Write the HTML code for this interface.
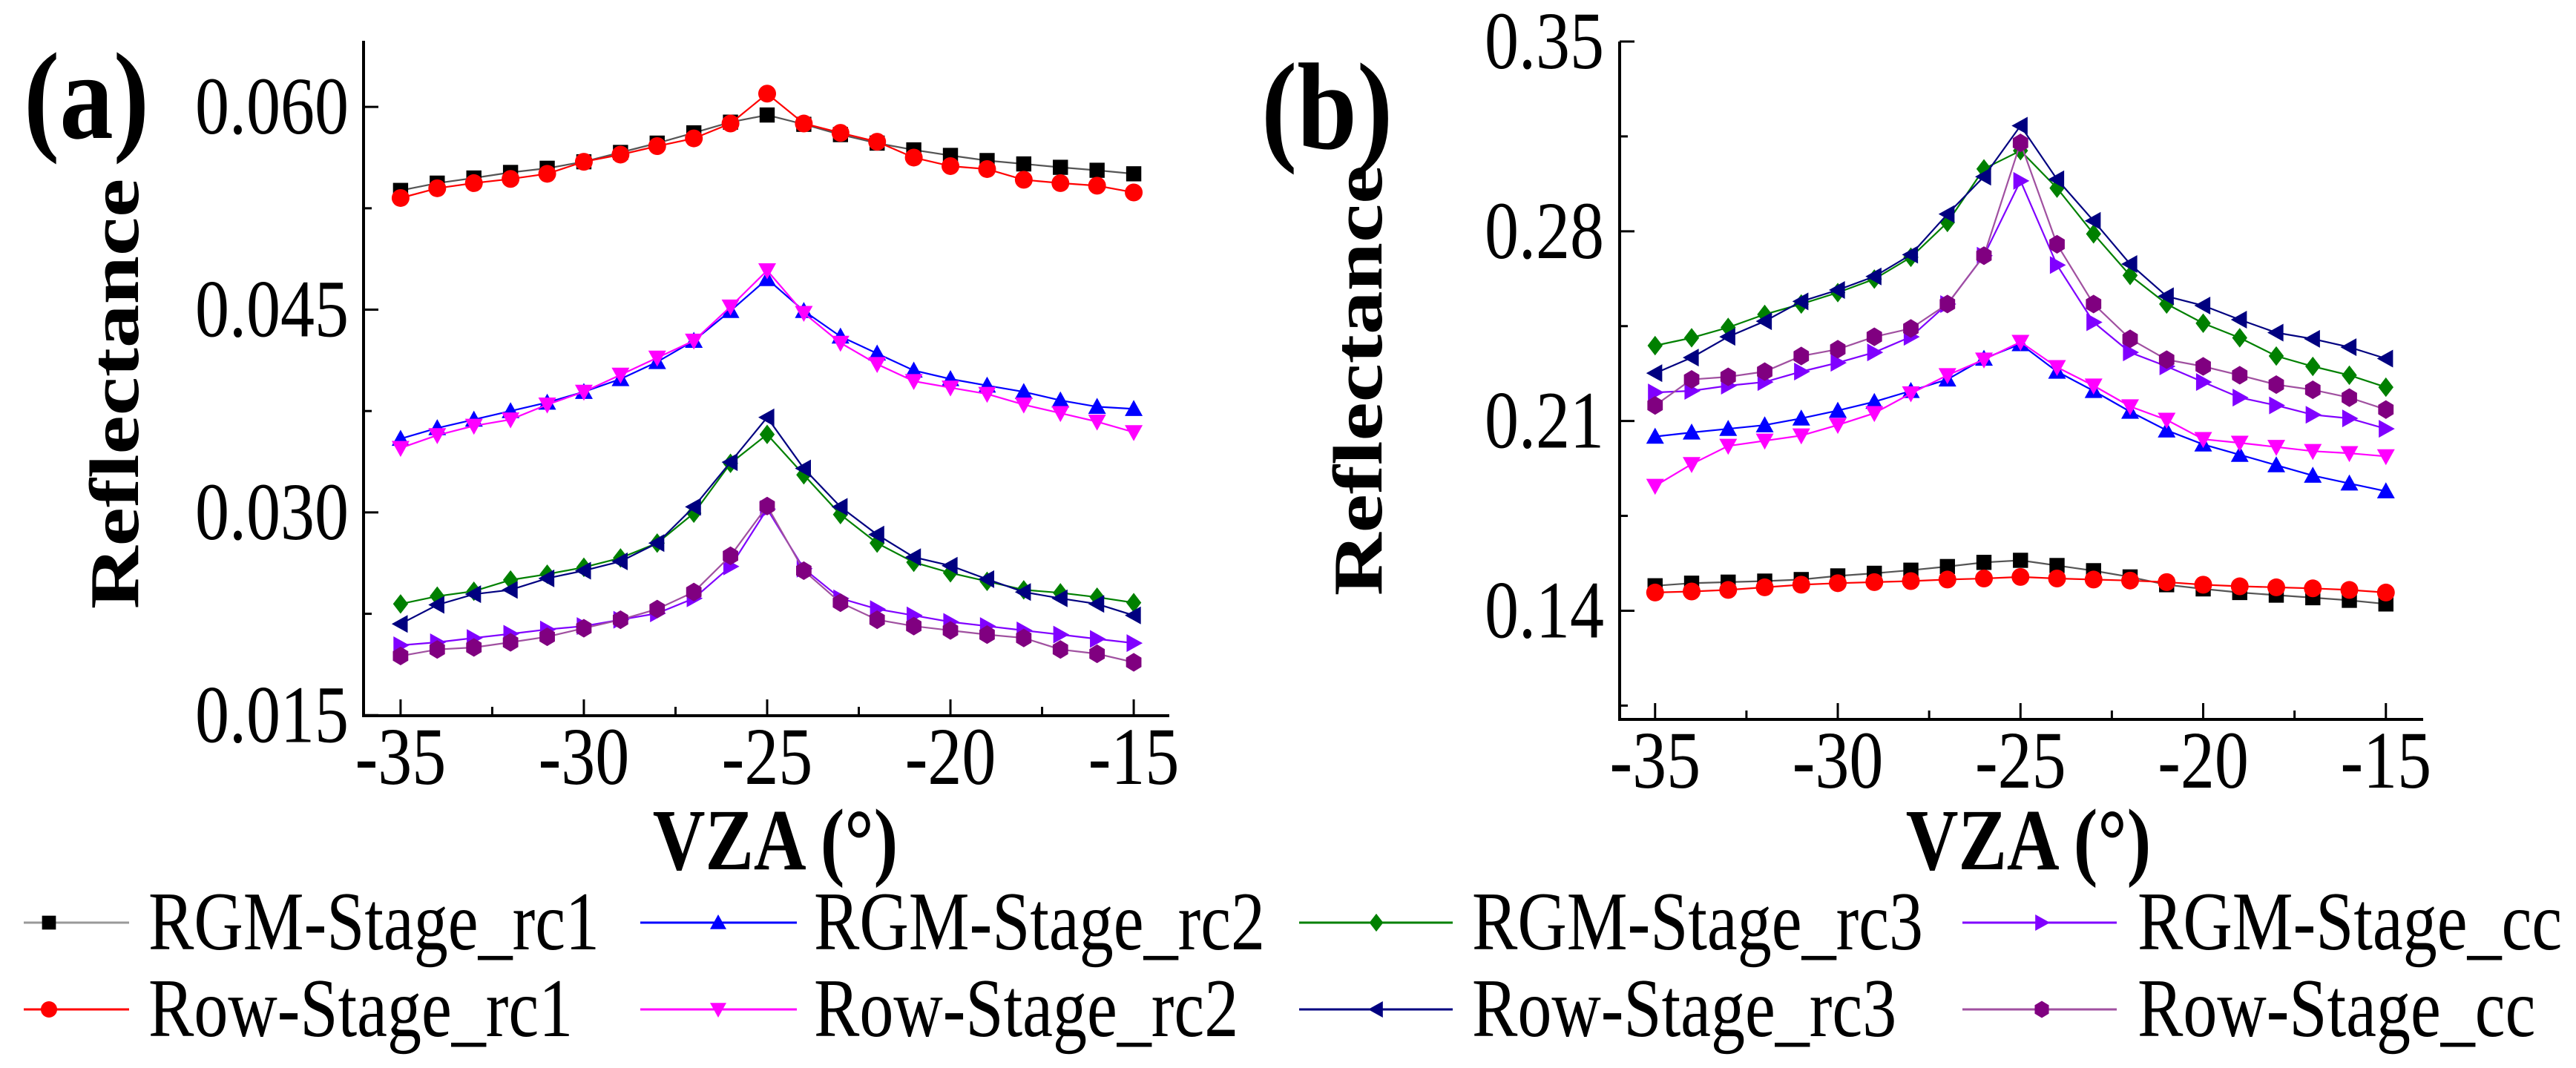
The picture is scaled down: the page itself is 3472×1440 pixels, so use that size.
<!DOCTYPE html>
<html><head><meta charset="utf-8"><style>
html,body{margin:0;padding:0;background:#fff;}
svg{display:block;font-family:"Liberation Serif","Times New Roman",serif;}
</style></head><body>
<svg id="chart" width="3472" height="1440" viewBox="0 0 3472 1440" xmlns="http://www.w3.org/2000/svg" font-family="Liberation Serif, Times New Roman, serif"></svg>
<script>
const vza = [-35,-34,-33,-32,-31,-30,-29,-28,-27,-26,-25,-24,-23,-22,-21,-20,-19,-18,-17,-16,-15];
const seriesNames = ["RGM-Stage_rc1","Row-Stage_rc1","RGM-Stage_rc2","Row-Stage_rc2","RGM-Stage_rc3","Row-Stage_rc3","RGM-Stage_cc","Row-Stage_cc"];
// Panel (a)
const aRgmRc1 = [.05382,.05436,.05474,.05515,.05546,.05594,.05663,.05732,.05808,.05887,.05940,.05871,.05795,.05732,.05682,.05641,.05603,.05578,.05553,.05531,.05505];
const aRowRc1 = [.05326,.05398,.05436,.05467,.05505,.05594,.05647,.05710,.05767,.05877,.06098,.05877,.05808,.05742,.05625,.05562,.05540,.05461,.05436,.05417,.05367];
const aRgmRc2 = [.03545,.03624,.03687,.03750,.03813,.03892,.03987,.04113,.04270,.04491,.04727,.04491,.04302,.04176,.04050,.03987,.03939,.03892,.03829,.03782,.03766];
const aRowRc2 = [.03476,.03571,.03640,.03687,.03797,.03892,.04018,.04144,.04270,.04522,.04790,.04475,.04254,.04097,.03971,.03923,.03876,.03797,.03734,.03671,.03593];
const aRgmRc3 = [.02323,.02380,.02417,.02500,.02543,.02594,.02663,.02773,.02994,.03363,.03577,.03278,.02984,.02773,.02631,.02553,.02490,.02427,.02405,.02373,.02332];
const aRowRc3 = [.02175,.02316,.02395,.02427,.02512,.02569,.02638,.02773,.03041,.03372,.03703,.03325,.03041,.02836,.02669,.02606,.02506,.02411,.02364,.02323,.02238];
const aRgmCc  = [.02017,.02039,.02071,.02102,.02134,.02159,.02206,.02253,.02364,.02600,.03025,.02584,.02364,.02285,.02238,.02190,.02159,.02127,.02096,.02064,.02033];
const aRowCc  = [.01938,.01986,.02001,.02039,.02080,.02143,.02206,.02285,.02411,.02679,.03047,.02569,.02332,.02206,.02159,.02127,.02096,.02071,.01986,.01954,.01891];
// Panel (b)
const bRgmRc1 = [.14921,.15016,.15055,.15093,.15150,.15285,.15381,.15496,.15630,.15784,.15860,.15668,.15477,.15247,.14960,.14806,.14671,.14575,.14480,.14384,.14250];
const bRowRc1 = [.14671,.14710,.14767,.14863,.14960,.15016,.15055,.15093,.15150,.15189,.15247,.15189,.15150,.15112,.15055,.14960,.14901,.14863,.14825,.14767,.14671];
const bRgmRc2 = [.20425,.20578,.20712,.20847,.21096,.21384,.21710,.22112,.22534,.23301,.23838,.22822,.22112,.21345,.20655,.20137,.19753,.19370,.18986,.18698,.18411];
const bRowRc2 = [.18603,.19408,.20080,.20271,.20463,.20850,.21288,.22016,.22688,.23263,.23915,.22986,.22304,.21537,.21041,.20329,.20195,.20040,.19888,.19811,.19696];
const bRgmRc3 = [.23781,.24069,.24452,.24932,.25315,.25737,.26236,.27041,.28326,.30301,.30973,.29592,.27904,.26370,.25315,.24606,.24069,.23397,.23014,.22688,.22247];
const bRowRc3 = [.22764,.23340,.24107,.24682,.25411,.25833,.26332,.27137,.28633,.30014,.31893,.29918,.28384,.26792,.25603,.25258,.24740,.24260,.24030,.23723,.23301];
const bRgmCc  = [.22055,.22112,.22304,.22438,.22822,.23148,.23532,.24107,.25315,.27099,.29860,.26753,.24644,.23532,.23014,.22438,.21863,.21575,.21230,.21096,.20712];
const bRowCc  = [.21575,.22534,.22630,.22822,.23397,.23647,.24107,.24414,.25315,.27099,.31260,.27520,.25315,.24030,.23263,.23014,.22688,.22343,.22151,.21863,.21422];
const aYTicks = ["0.015","0.030","0.045","0.060"];
const bYTicks = ["0.14","0.21","0.28","0.35"];
const xTicks = ["-35","-30","-25","-20","-15"];

const NS = "http://www.w3.org/2000/svg";
const svg = document.getElementById("chart");
const FF = "Liberation Serif, Times New Roman, serif";
function el(tag, attrs, parent){ const e=document.createElementNS(NS,tag); for(const k in attrs) e.setAttribute(k,attrs[k]); (parent||svg).appendChild(e); return e; }

const colors = ["#000000","#ff0000","#0000ff","#ff00ff","#008000","#000080","#8000ff","#800080"];
const lineColors = ["#555555","#ff0000","#0000ff","#ff00ff","#008000","#000080","#8000ff","#a050a0"];
const shapes = ["square","circle","up","down","diamond","left","right","hex"];

function marker(g, shape, cx, cy, r, color){
  let m;
  if(shape==="square") m=el("rect",{x:cx-r*0.85,y:cy-r*0.85,width:r*1.7,height:r*1.7,fill:color},g);
  else if(shape==="circle") m=el("circle",{cx:cx,cy:cy,r:r,fill:color},g);
  else {
    let pts;
    if(shape==="up") pts=[[0,-r],[r,r*0.8],[-r,r*0.8]];
    else if(shape==="down") pts=[[0,r],[r,-r*0.8],[-r,-r*0.8]];
    else if(shape==="left") pts=[[-r,0],[r*0.8,-r],[r*0.8,r]];
    else if(shape==="right") pts=[[r,0],[-r*0.8,-r],[-r*0.8,r]];
    else if(shape==="diamond") pts=[[0,-r*1.1],[r*0.85,0],[0,r*1.1],[-r*0.85,0]];
    else { pts=[]; for(let i=0;i<6;i++){const a=Math.PI/3*i+Math.PI/6; pts.push([r*Math.cos(a),r*1.05*Math.sin(a)]);} }
    m=el("polygon",{points:pts.map(p=>(cx+p[0])+","+(cy+p[1])).join(" "),fill:color},g);
  }
  return m;
}

function panel(cfg){
  const g = el("g",{});
  
  
  const xs = v => cfg.x0 + (v - cfg.xmin)/(cfg.xmax-cfg.xmin)*(cfg.x1-cfg.x0);
  const ys = v => cfg.yb - (v - cfg.ymin)/(cfg.ymax-cfg.ymin)*(cfg.yb-cfg.yt);
  const ax = el("line",{x1:cfg.x0,y1:cfg.yt,x2:cfg.x0,y2:cfg.yb+2,stroke:"#000","stroke-width":4},g);
  
  
  const bx = el("line",{x1:cfg.x0-2,y1:cfg.yb,x2:cfg.x1,y2:cfg.yb,stroke:"#000","stroke-width":4},g);
  
  
  cfg.yTicks.forEach(t=>{
    const v=parseFloat(t), y=ys(v);
    el("line",{x1:cfg.x0,y1:y,x2:cfg.x0+20,y2:y,stroke:"#000","stroke-width":3},g);
    const tx=el("text",{transform:`translate(${cfg.labelRight},${y+36}) scale(1,1.2)`,"font-size":92,"font-family":FF,"text-anchor":"end",fill:"#000"},g);
    tx.textContent=t;
    
    
    const mv=v+cfg.yStep/2, my=ys(mv);
    if(my>cfg.yt-1) el("line",{x1:cfg.x0,y1:my,x2:cfg.x0+11,y2:my,stroke:"#000","stroke-width":3},g);
    const mv2=v-cfg.yStep/2, my2=ys(mv2);
    if(mv2<cfg.yTicksMin && my2<cfg.yb-3) el("line",{x1:cfg.x0,y1:my2,x2:cfg.x0+11,y2:my2,stroke:"#000","stroke-width":3},g);
  });
  xTicks.forEach(t=>{
    const v=parseFloat(t), x=xs(v);
    el("line",{x1:x,y1:cfg.yb,x2:x,y2:cfg.yb-22,stroke:"#000","stroke-width":3},g);
    if(v<-15){ const mx=xs(v+2.5); el("line",{x1:mx,y1:cfg.yb,x2:mx,y2:cfg.yb-12,stroke:"#000","stroke-width":3},g); }
    const tx=el("text",{transform:`translate(${x},${cfg.yb+92}) scale(1,1.2)`,"font-size":92,"font-family":FF,"text-anchor":"middle",fill:"#000"},g);
    tx.textContent=t;
    
    
  });
  cfg.data.forEach((arr,si)=>{
    const sg=el("g",{},g);
    
    
    const pts=arr.map((v,i)=>xs(vza[i]).toFixed(1)+","+ys(v).toFixed(1)).join(" ");
    el("polyline",{points:pts,fill:"none",stroke:lineColors[si],"stroke-width":2.2},sg);
    arr.forEach((v,i)=>{ marker(sg,shapes[si],xs(vza[i]),ys(v),12,colors[si]); });
  });
  const xt=el("text",{transform:`translate(${cfg.xTitleX},1172) scale(1,1.2)`,"font-size":98,"font-family":FF,"font-weight":"bold","text-anchor":"middle",fill:"#000"},g);
  xt.textContent="VZA (°)";
  
  
  const yt=el("text",{transform:`translate(${cfg.yTitleX},${cfg.yTitleY}) rotate(-90) scale(1.25,1)`,"font-size":94,"font-family":FF,"font-weight":"bold","text-anchor":"middle",fill:"#000"},g);
  yt.textContent="Reflectance";
  
  
  const pl=el("text",{transform:`translate(${cfg.plx},${cfg.ply}) scale(1,1.15)`,"font-size":145,"font-family":FF,"font-weight":"bold",fill:"#000"},g);
  pl.textContent=cfg.label;
  
  
}

panel({name:"panel-a",x0:490,x1:1576,xmin:-36.01,xmax:-14.03,yt:55,yb:965,ymin:0.01496,ymax:0.06489,
  yTicks:aYTicks,yStep:0.015,yTicksMin:0.0151,labelRight:470,
  data:[aRgmRc1,aRowRc1,aRgmRc2,aRowRc2,aRgmRc3,aRowRc3,aRgmCc,aRowCc],
  xTitleX:1045,yTitleX:186,yTitleY:531,label:"(a)",plx:32,ply:186});
panel({name:"panel-b",x0:2183,x1:3266,xmin:-35.97,xmax:-13.98,yt:56,yb:970,ymin:0.0999,ymax:0.35,
  yTicks:bYTicks,yStep:0.07,yTicksMin:0.141,labelRight:2162,
  data:[bRgmRc1,bRowRc1,bRgmRc2,bRowRc2,bRgmRc3,bRowRc3,bRgmCc,bRowCc],
  xTitleX:2734,yTitleX:1862,yTitleY:513,label:"(b)",plx:1700,ply:200});

const legendCols = [{lx:32,lw:142,mx:66,tx:200},{lx:863,lw:211,mx:968,tx:1097},{lx:1751,lw:207,mx:1855,tx:1984},{lx:2645,lw:208,mx:2752,tx:2881}];
const legendRows = [1244,1361];
const lg = el("g",{});


const legendOrder = [[0,2,4,6],[1,3,5,7]];
legendOrder.forEach((row,ri)=>{
  row.forEach((si,ci)=>{
    const c=legendCols[ci], y=legendRows[ri];
    const eg=el("g",{},lg);
    
    
    el("line",{x1:c.lx,y1:y,x2:c.lx+c.lw,y2:y,stroke:si===0?"#999":lineColors[si],"stroke-width":3},eg);
    marker(eg,shapes[si],c.mx,y,11,colors[si]);
    const t=el("text",{transform:`translate(${c.tx},${y+36}) scale(1,1.22)`,"font-size":92,"font-family":FF,fill:"#000"},eg);
    t.textContent=seriesNames[si];
  });
});
</script>
</body></html>
